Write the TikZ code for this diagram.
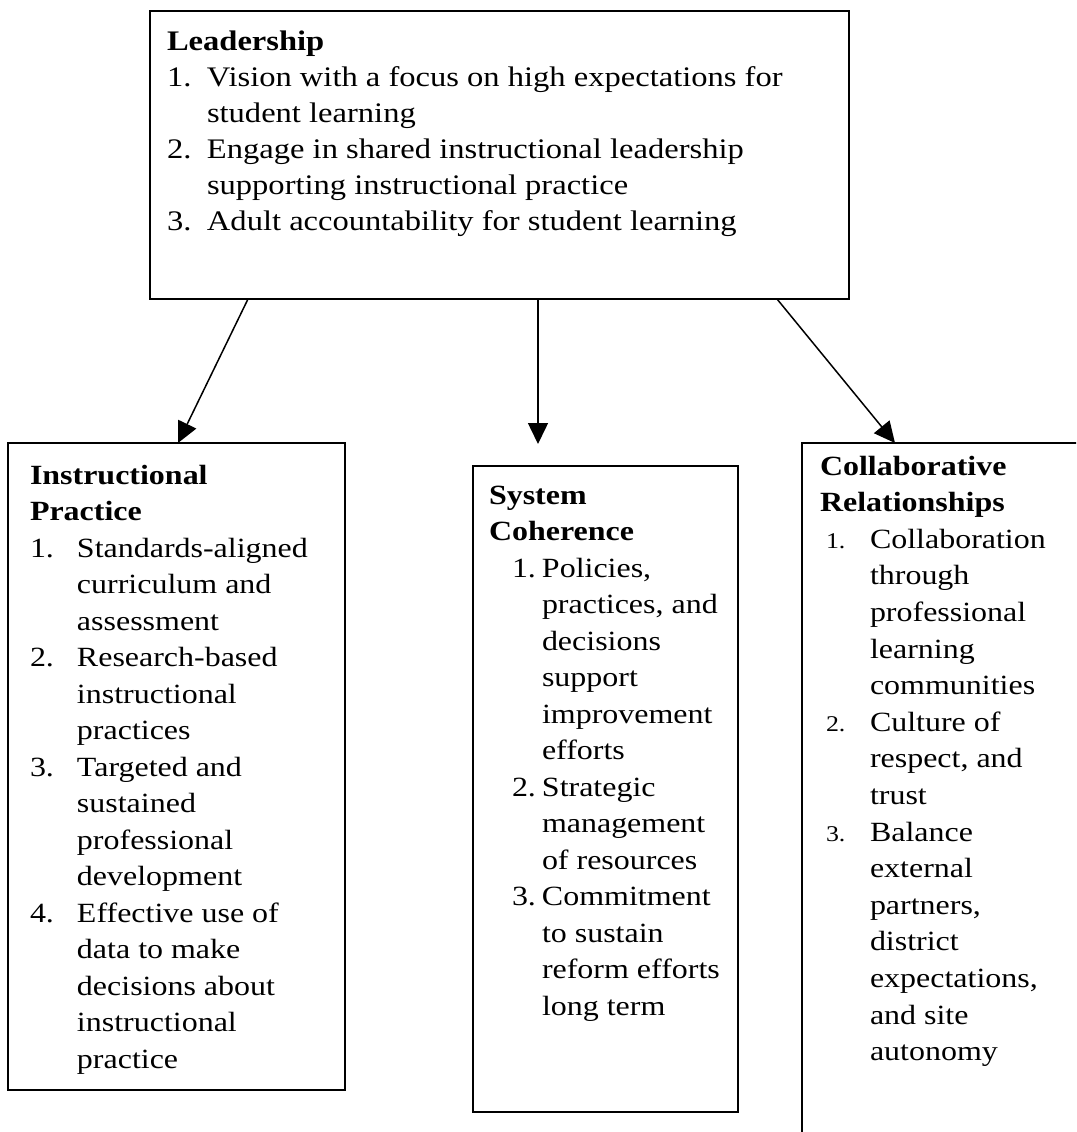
\documentclass[tikz,border=0pt]{standalone}
\usepackage{fontspec}
\setmainfont{Liberation Serif}[FakeStretch=1.15]
\usetikzlibrary{arrows.meta,calc}
% number column of a hanging list line
\newcommand{\lnum}[2]{\makebox[#1][l]{#2}}
\newcommand{\smallnum}[1]{{\fontsize{22.5}{30}\selectfont #1}}
\begin{document}
\begin{tikzpicture}[x=1pt,y=-1pt,
  box/.style={draw, line width=2pt, inner sep=0pt, outer sep=0pt, anchor=north west},
  txt/.style={anchor=north west, inner sep=0pt, outer sep=0pt, align=left},
  link/.style={line width=1.5pt, -{Triangle[width=20pt,length=21pt]}}]
\path[use as bounding box] (0,0) rectangle (1076,1132);
\clip (0,0) rectangle (1076,1132);

% boxes
\node[box, minimum width=699pt, minimum height=288pt] (lead) at (150,11) {};
\node[box, minimum width=337pt, minimum height=647pt] (ip) at (8,443) {};
\node[box, minimum width=265pt, minimum height=646pt] (sc) at (473,466) {};
\node[box, minimum width=400pt, minimum height=760pt] (cr) at (802,443) {};

% texts (first baseline = node top + 0.7 baselineskip)
\node[txt, font=\fontsize{28.3}{36}\selectfont] (leadtxt) at (167,25.2) {%
\strut\textbf{Leadership}\\
\lnum{40pt}{1.}Vision with a focus on high expectations for\\
\hspace*{40pt}student learning\\
\lnum{40pt}{2.}Engage in shared instructional leadership\\
\hspace*{40pt}supporting instructional practice\\
\lnum{40pt}{3.}Adult accountability for student learning};

\node[txt, font=\fontsize{27.8}{36.5}\selectfont] (iptxt) at (30,458.5) {%
\strut\textbf{Instructional}\\
\textbf{Practice}\\
\lnum{47pt}{1.}Standards-aligned\\
\hspace*{47pt}curriculum and\\
\hspace*{47pt}assessment\\
\lnum{47pt}{2.}Research-based\\
\hspace*{47pt}instructional\\
\hspace*{47pt}practices\\
\lnum{47pt}{3.}Targeted and\\
\hspace*{47pt}sustained\\
\hspace*{47pt}professional\\
\hspace*{47pt}development\\
\lnum{47pt}{4.}Effective use of\\
\hspace*{47pt}data to make\\
\hspace*{47pt}decisions about\\
\hspace*{47pt}instructional\\
\hspace*{47pt}practice};

\node[txt, font=\fontsize{27.8}{36.5}\selectfont] (sctxt) at (489,478.5) {%
\strut\textbf{System}\\
\textbf{Coherence}\\
\hspace*{23pt}\lnum{30pt}{1.}Policies,\\
\hspace*{53pt}practices, and\\
\hspace*{53pt}decisions\\
\hspace*{53pt}support\\
\hspace*{53pt}improvement\\
\hspace*{53pt}efforts\\
\hspace*{23pt}\lnum{30pt}{2.}Strategic\\
\hspace*{53pt}management\\
\hspace*{53pt}of resources\\
\hspace*{23pt}\lnum{30pt}{3.}Commitment\\
\hspace*{53pt}to sustain\\
\hspace*{53pt}reform efforts\\
\hspace*{53pt}long term};

\node[txt, font=\fontsize{27.8}{36.6}\selectfont] (crtxt) at (820,449.4) {%
\strut\textbf{Collaborative}\\
\textbf{Relationships}\\
\hspace*{6pt}\lnum{44pt}{\smallnum{1.}}Collaboration\\
\hspace*{50pt}through\\
\hspace*{50pt}professional\\
\hspace*{50pt}learning\\
\hspace*{50pt}communities\\
\hspace*{6pt}\lnum{44pt}{\smallnum{2.}}Culture of\\
\hspace*{50pt}respect, and\\
\hspace*{50pt}trust\\
\hspace*{6pt}\lnum{44pt}{\smallnum{3.}}Balance\\
\hspace*{50pt}external\\
\hspace*{50pt}partners,\\
\hspace*{50pt}district\\
\hspace*{50pt}expectations,\\
\hspace*{50pt}and site\\
\hspace*{50pt}autonomy};

% connectors
\draw[link] ($(lead.south west)+(98,0)$) -- ($(ip.north west)+(170,0)$);
\draw[link] ($(lead.south west)+(388,0)$) -- ($(sc.north west)+(65,-22)$);
\draw[link] ($(lead.south west)+(627,0)$) -- ($(cr.north west)+(93,0)$);
\end{tikzpicture}
\end{document}
